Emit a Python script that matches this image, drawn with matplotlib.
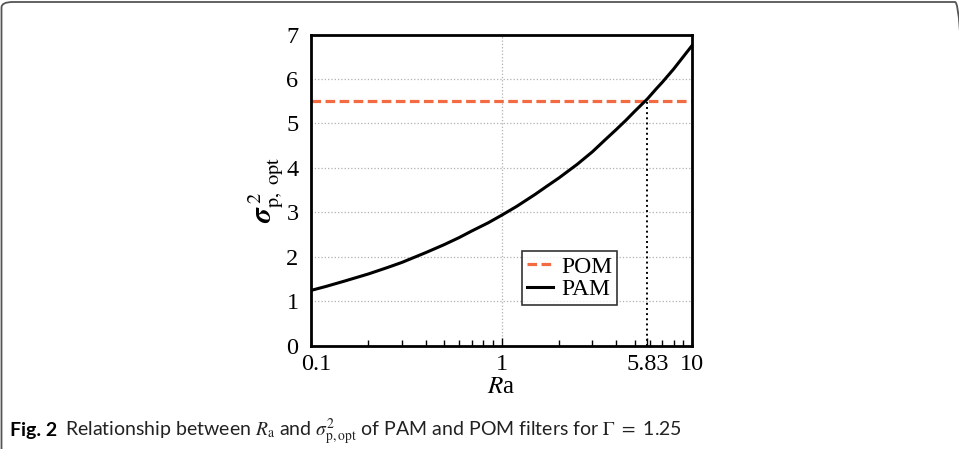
import matplotlib
matplotlib.use("Agg")
import matplotlib.pyplot as plt
import matplotlib.transforms as mtransforms
from matplotlib.patches import FancyBboxPatch
from matplotlib.ticker import FixedLocator, FixedFormatter, LogLocator, NullFormatter

# values
ra = [0.1, 0.12, 0.15, 0.2, 0.25, 0.3, 0.4, 0.5, 0.6, 0.7, 0.85, 1, 1.2, 1.5, 1.75,
      2, 2.5, 3, 3.5, 4, 4.5, 5, 5.83, 6.5, 7, 8, 9, 10]
pam = [1.24, 1.33, 1.45, 1.61, 1.75, 1.87, 2.09, 2.27, 2.43, 2.58, 2.76, 2.93, 3.13, 3.40, 3.60,
       3.77, 4.08, 4.36, 4.63, 4.86, 5.07, 5.27, 5.55, 5.78, 5.93, 6.22, 6.50, 6.75]
pom = 5.5
ra_cross = 5.83
xticks = [0.1, 1, 5.83, 10]
xtick_labels = ["0.1", "1", "5.83", "10"]
yticks = [0, 1, 2, 3, 4, 5, 6, 7]

plt.rcParams["font.family"] = ["Liberation Serif"]
plt.rcParams["mathtext.fontset"] = "stix"

W, H = 959, 449
fig = plt.figure(figsize=(W / 100, H / 100), dpi=100)

# rounded frame around the whole figure
frame = FancyBboxPatch((1.5 / W, -12 / H), (W + 6) / W, (H + 10) / H,
                       boxstyle="round,pad=0,rounding_size=0.012",
                       transform=fig.transFigure, fill=False,
                       edgecolor="#555555", linewidth=1.3)
fig.patches.append(frame)

ax = fig.add_axes([311 / W, 103.5 / H, 381 / W, 311 / H])

ax.axhline(pom, color="#f26b43", linestyle=(0, (3.0, 1.4)), linewidth=2.3, label="POM")
ax.plot(ra, pam, color="black", linewidth=2.2, label="PAM")
ax.plot([ra_cross, ra_cross], [0, pom], color="black", linestyle=":", linewidth=1.4)

ax.set_xscale("log")
ax.set_xlim(0.1, 10)
ax.set_ylim(0, 7)

ax.xaxis.set_major_locator(FixedLocator(xticks))
ax.xaxis.set_major_formatter(FixedFormatter(xtick_labels))
ax.xaxis.set_minor_locator(LogLocator(base=10, subs=range(2, 10)))
ax.xaxis.set_minor_formatter(NullFormatter())
ax.set_yticks(yticks)

ax.tick_params(axis="x", which="major", direction="in", length=6, width=1, labelsize=17.5, pad=6)
ax.tick_params(axis="x", which="minor", direction="in", length=4, width=1)
ax.tick_params(axis="y", length=0, labelsize=17.5, pad=9)

# grid only at y ticks and x = 1
for yv in yticks[1:-1]:
    ax.axhline(yv, color="#b0b0b0", linestyle=":", linewidth=0.9, zorder=0)
ax.axvline(1, color="#b0b0b0", linestyle=":", linewidth=0.9, zorder=0)

for s in ax.spines.values():
    s.set_linewidth(2)

ax.set_xlabel(r"$R$a", fontsize=18, labelpad=1)
ax.set_ylabel(r"$\boldsymbol{\sigma}_{\mathrm{p,\ opt}}^{\ 2}$", fontsize=21, labelpad=0)

leg = ax.legend(loc="lower left", bbox_to_anchor=(0.555, 0.13), fontsize=17,
                frameon=True, fancybox=False, edgecolor="black",
                handlelength=1.1, handletextpad=0.35, borderpad=0.2,
                labelspacing=0.05, borderaxespad=0)
leg.get_frame().set_linewidth(1.2)

# caption
cap_font = ["Lato", "DejaVu Sans"]
t1 = fig.text(10 / W, 13 / H, "Fig. 2", fontsize=14, fontweight="bold",
              family=cap_font, va="baseline")
fig.canvas.draw()

# the first x label sits a little right of the corner, as in the reference
first = ax.get_xticklabels()[0]
first.set_transform(first.get_transform() + mtransforms.ScaledTranslation(4 / 72, 0, fig.dpi_scale_trans))

bb = t1.get_window_extent()
fig.text((bb.x1 + 8) / W, 13 / H,
         r"Relationship between $R_\mathrm{a}$ and $\sigma^2_\mathrm{p,opt}$ of PAM and POM filters for $\Gamma\ =$ 1.25",
         fontsize=14, family=cap_font, color="#222222", va="baseline")

fig.savefig("out.png", dpi=100)
